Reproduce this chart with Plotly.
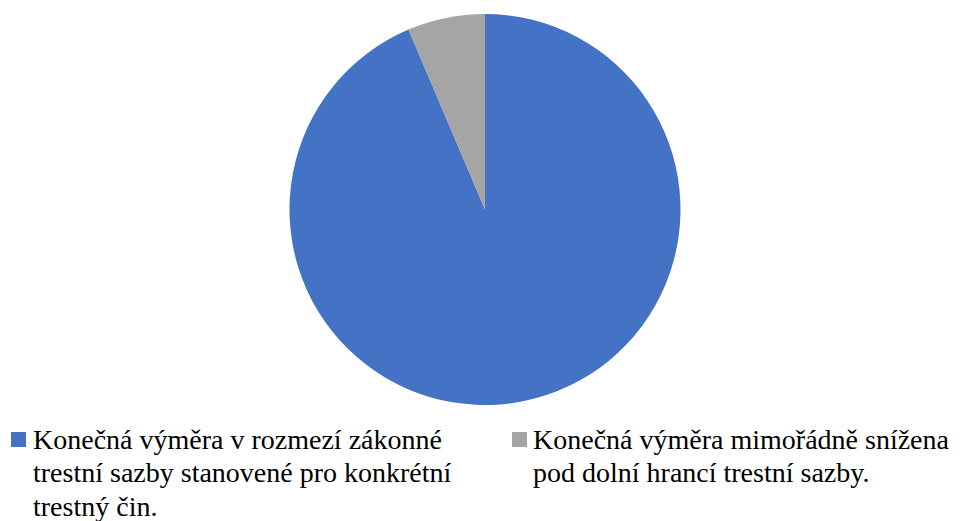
import plotly.graph_objects as go

# Sentence outcome categories and their shares (%)
categories = [
    "Konečná výměra v rozmezí zákonné<br>trestní sazby stanovené pro konkrétní<br>trestný čin.",
    "Konečná výměra mimořádně snížena<br>pod dolní hrancí trestní sazby.",
]
shares = [93.6, 6.4]
colors = ["#4472C4", "#A5A5A5"]

W, H = 973, 521
serif = "Liberation Serif, Times New Roman, serif"
FONT_SIZE = 28

fig = go.Figure()

fig.add_trace(
    go.Pie(
        labels=[c.replace("<br>", " ") for c in categories],
        values=shares,
        sort=False,
        direction="clockwise",
        rotation=0,
        textinfo="none",
        hoverinfo="label+percent",
        showlegend=False,
        marker=dict(colors=colors, line=dict(width=0)),
        domain=dict(x=[0, 970 / W], y=[1 - 405 / H, 1 - 14 / H]),
    )
)

# Key below the pie: two columns, each a square swatch followed by wrapped text
key_left = [11, 512]        # swatch left edge (px)
text_left = [32, 532]       # text start (px)
swatch_top, swatch_size = 432, 15
first_line_mid, line_step = 439, 33.5

shapes = []
annotations = []
for col, (label, color) in enumerate(zip(categories, colors)):
    x0 = key_left[col]
    shapes.append(
        dict(
            type="rect",
            xref="paper",
            yref="paper",
            x0=x0 / W,
            x1=(x0 + swatch_size) / W,
            y0=1 - (swatch_top + swatch_size) / H,
            y1=1 - swatch_top / H,
            fillcolor=color,
            line=dict(width=0),
            layer="above",
        )
    )
    for i, line in enumerate(label.split("<br>")):
        annotations.append(
            dict(
                text=line,
                xref="paper",
                yref="paper",
                x=text_left[col] / W,
                y=1 - (first_line_mid + i * line_step) / H,
                xanchor="left",
                yanchor="middle",
                align="left",
                showarrow=False,
                borderpad=0,
                font=dict(family=serif, size=FONT_SIZE, color="black"),
            )
        )

fig.update_layout(
    width=W,
    height=H,
    margin=dict(l=0, r=0, t=0, b=0),
    paper_bgcolor="white",
    plot_bgcolor="white",
    font=dict(family=serif, size=FONT_SIZE, color="black"),
    showlegend=False,
    shapes=shapes,
    annotations=annotations,
)

fig.write_html("out.html")
